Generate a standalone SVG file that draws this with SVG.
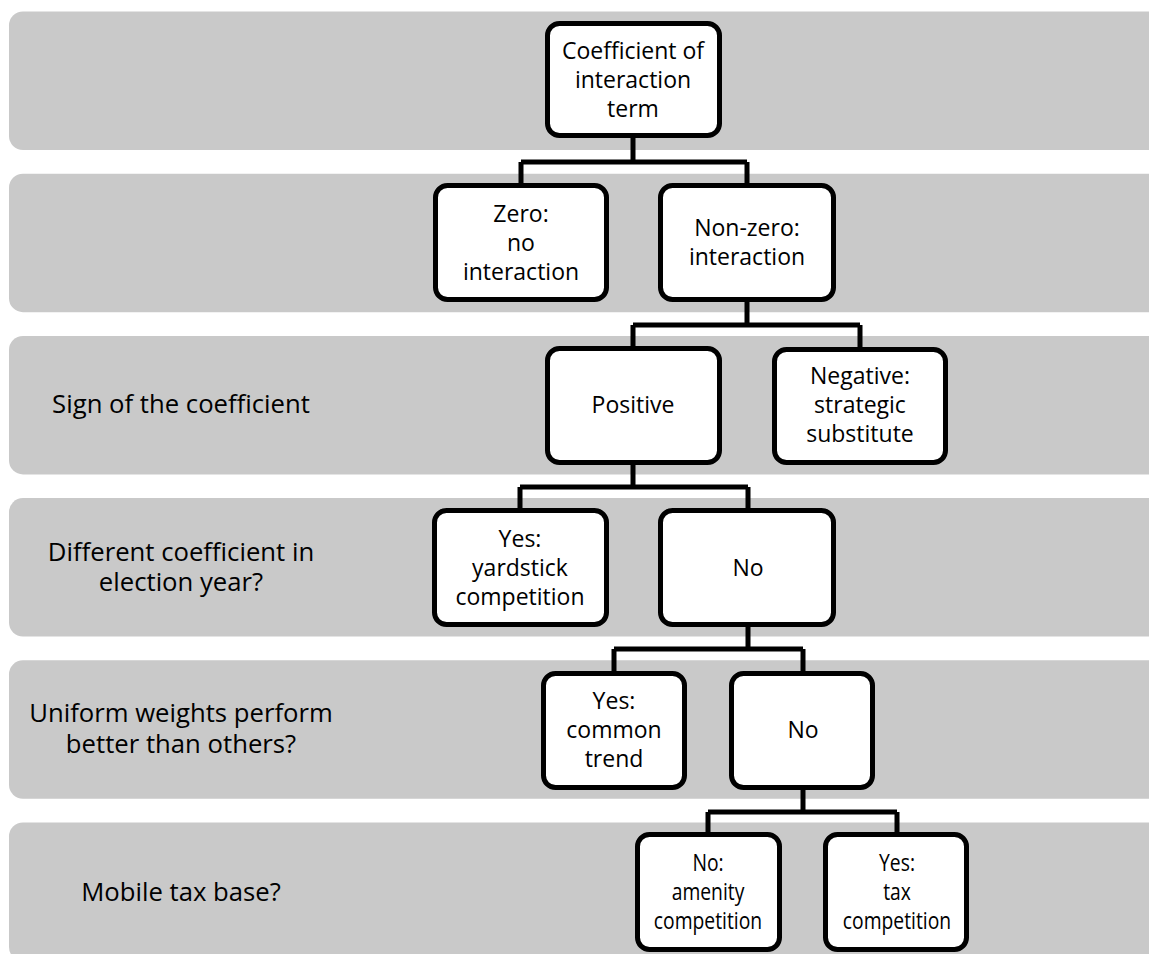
<svg xmlns="http://www.w3.org/2000/svg" width="1149" height="954" viewBox="0 0 1149 954">
<style>
.band{fill:#c9c9c9;}
.node rect{fill:#fff;stroke:#000;stroke-width:5;}
text{font-family:"Open Sans","Liberation Sans",sans-serif;font-size:23px;fill:#000;text-anchor:middle;}
#labels text{font-size:25.7px;}
.conn path{fill:none;stroke:#000;stroke-width:5;stroke-linejoin:miter;}
</style>
<rect width="1149" height="954" fill="#fff"/>
<g id="bands">
<rect class="band" x="9" y="11.5" width="1160" height="138.5" rx="14"/>
<rect class="band" x="9" y="173.7" width="1160" height="138.5" rx="14"/>
<rect class="band" x="9" y="335.9" width="1160" height="138.5" rx="14"/>
<rect class="band" x="9" y="498.1" width="1160" height="138.5" rx="14"/>
<rect class="band" x="9" y="660.3" width="1160" height="138.5" rx="14"/>
<rect class="band" x="9" y="822.5" width="1160" height="138.5" rx="14"/>
</g>
<g id="labels">
<text x="181" y="413">Sign of the coefficient</text>
<text x="181" y="561">Different coefficient in</text>
<text x="181" y="591">election year?</text>
<text x="181" y="722">Uniform weights perform</text>
<text x="181" y="753">better than others?</text>
<text x="181" y="901">Mobile tax base?</text>
</g>
<g id="connectors" class="conn">
<path d="M633 136 V162 M521 162 H747 M521 162 V186 M747 162 V186"/>
<path d="M747 300 V325 M633 325 H860 M633 325 V349 M860 325 V349"/>
<path d="M633 463 V487 M520 487 H748 M520 487 V511 M748 487 V511"/>
<path d="M748 625 V649 M614 649 H803 M614 649 V673 M803 649 V673"/>
<path d="M803 788 V812 M708 812 H897 M708 812 V835 M897 812 V835"/>
</g>
<g id="n1" class="node"><rect x="547.5" y="23.5" width="172" height="112" rx="12"/>
<text x="633" y="59">Coefficient of</text><text x="633" y="88">interaction</text><text x="633" y="117">term</text></g>
<g id="n2" class="node"><rect x="435.5" y="185.5" width="171" height="114" rx="12"/>
<text x="521" y="222">Zero:</text><text x="521" y="251">no</text><text x="521" y="280">interaction</text></g>
<g id="n3" class="node"><rect x="660.5" y="185.5" width="173" height="114" rx="12"/>
<text x="747" y="236">Non-zero:</text><text x="747" y="265">interaction</text></g>
<g id="n4" class="node"><rect x="547.5" y="348.5" width="172" height="114" rx="12"/>
<text x="633" y="413">Positive</text></g>
<g id="n5" class="node"><rect x="774.5" y="349.5" width="171" height="113" rx="12"/>
<text x="860" y="384">Negative:</text><text x="860" y="413">strategic</text><text x="860" y="442">substitute</text></g>
<g id="n6" class="node"><rect x="434.5" y="510.5" width="172" height="114" rx="12"/>
<text x="520" y="547">Yes:</text><text x="520" y="576">yardstick</text><text x="520" y="605">competition</text></g>
<g id="n7" class="node"><rect x="660.5" y="510.5" width="173" height="114" rx="12"/>
<text x="748" y="576">No</text></g>
<g id="n8" class="node"><rect x="543.5" y="673.5" width="141" height="114" rx="12"/>
<text x="614" y="709">Yes:</text><text x="614" y="738">common</text><text x="614" y="767">trend</text></g>
<g id="n9" class="node"><rect x="731.5" y="673.5" width="141" height="114" rx="12"/>
<text x="803" y="738">No</text></g>
<g id="n10" class="node"><rect x="637.5" y="834.5" width="142" height="115" rx="12"/>
<g transform="translate(708 0) scale(0.84 1)"><text x="0" y="871">No:</text><text x="0" y="900">amenity</text><text x="0" y="929">competition</text></g></g>
<g id="n11" class="node"><rect x="825.5" y="834.5" width="141" height="115" rx="12"/>
<g transform="translate(897 0) scale(0.84 1)"><text x="0" y="871">Yes:</text><text x="0" y="900">tax</text><text x="0" y="929">competition</text></g></g>
</svg>
